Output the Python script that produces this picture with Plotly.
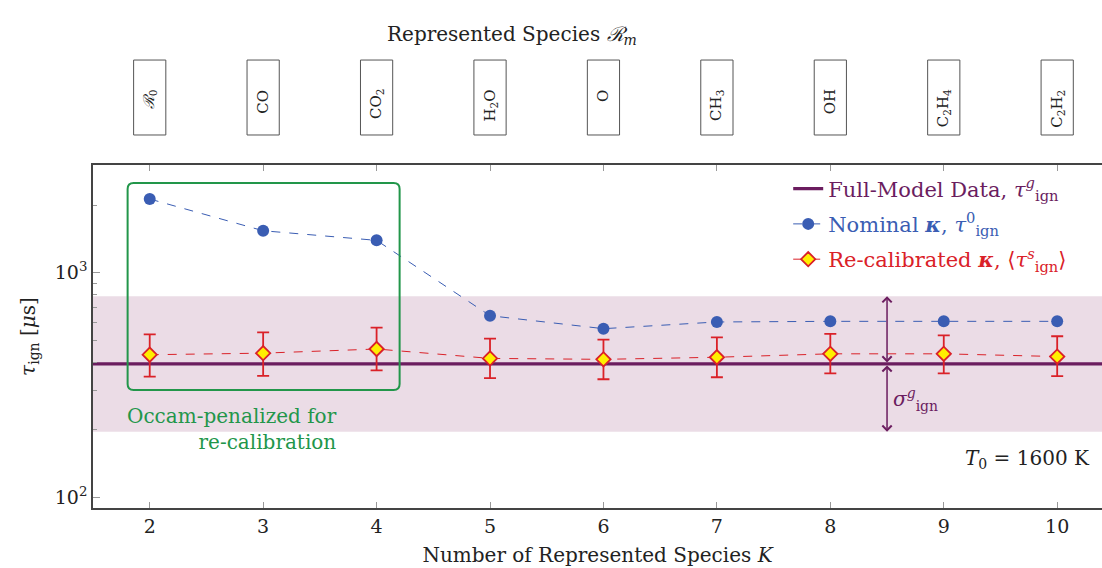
import numpy as np
import plotly.graph_objects as go

# ---------------- data ----------------
K = [2, 3, 4, 5, 6, 7, 8, 9, 10]
species = ["<i>ℛ</i><sub>0</sub>", "CO", "CO<sub>2</sub>", "H<sub>2</sub>O", "O",
           "CH<sub>3</sub>", "OH", "C<sub>2</sub>H<sub>4</sub>", "C<sub>2</sub>H<sub>2</sub>"]
tau_nominal = [2127, 1537, 1393, 644, 564, 604, 608, 608, 608]
tau_recal = [432, 439, 458, 416, 412, 421, 436, 436, 424]
tau_recal_hi = [532, 543, 570, 509, 504, 516, 535, 527, 522]
tau_recal_lo = [345, 348, 368, 340, 336, 343, 357, 357, 347]
tau_full = 393
sigma_factor = 2.0
x_span = [1.0, 11.0]

PURPLE = "#6B1D5F"
BAND = "#EBDCE6"
BLUE = "#3A5DB3"
RED = "#DA2128"
GREEN = "#22964A"
AX = "#444444"
FONT = "DejaVu Serif"

err_plus = [h - m for h, m in zip(tau_recal_hi, tau_recal)]
err_minus = [m - l for m, l in zip(tau_recal, tau_recal_lo)]

fig = go.Figure()

# sigma band
band_lo = tau_full / sigma_factor
band_hi = tau_full * sigma_factor
fig.add_trace(go.Scatter(
    x=[x_span[0], x_span[1], x_span[1], x_span[0]],
    y=[band_lo, band_lo, band_hi, band_hi],
    fill="toself", fillcolor=BAND, line=dict(width=0), mode="lines",
    showlegend=False, hoverinfo="skip"))

fig.add_trace(go.Scatter(
    x=x_span, y=[tau_full, tau_full], mode="lines", legendgroup="a",
    line=dict(color=PURPLE, width=3.2),
    name=f'<span style="color:{PURPLE}">Full-Model Data, <i>τ</i><sup><i>g</i></sup><sub>ign</sub></span>'))

fig.add_trace(go.Scatter(
    x=K, y=tau_nominal, mode="lines+markers", legendgroup="b",
    line=dict(color=BLUE, width=1, dash="dash"),
    marker=dict(color=BLUE, size=12, symbol="circle"),
    name=f'<span style="color:{BLUE}">Nominal <b><i>κ</i></b>, <i>τ</i><sup>0</sup><sub>ign</sub></span>'))

fig.add_trace(go.Scatter(
    x=K, y=tau_recal, mode="lines+markers", legendgroup="c",
    line=dict(color=RED, width=1, dash="dash"),
    marker=dict(color="#FFEF00", size=11, symbol="diamond", line=dict(color=RED, width=1.8)),
    error_y=dict(type="data", symmetric=False, array=err_plus, arrayminus=err_minus,
                 color=RED, thickness=1.8, width=6),
    name=f'<span style="color:{RED}">Re-calibrated <b><i>κ</i></b>, ⟨<i>τ</i><sup><i>s</i></sup><sub>ign</sub>⟩</span>'))

annotations = []
shapes = []

# species boxes on top
for k, s in zip(K, species):
    shapes.append(dict(type="rect", xref="x", yref="paper", x0=k - 0.142, x1=k + 0.142,
                       y0=1.0875, y1=1.306, line=dict(color="#555555", width=1)))
    annotations.append(dict(x=k, y=1.1968, xref="x", yref="paper", text=s, showarrow=False,
                            textangle=-90, yshift=10,
                            font=dict(family=FONT, size=15, color="#222222")))

annotations.append(dict(x=(512 - 93.3) / (1102 - 93.3), y=1.4227, xref="paper", yref="paper",
                        text="Represented Species <i>ℛ</i><sub><i>m</i></sub>", showarrow=False,
                        font=dict(family=FONT, size=20, color="#222222")))

# Occam box
shapes.append(dict(type="path", xref="x", yref="paper", xsizemode="pixel", ysizemode="pixel",
                   xanchor=3.004, yanchor=0.6458,
                   path="M -130,-103.5 L 130,-103.5 Q 136,-103.5 136,-97.5 L 136,97.5 Q 136,103.5 130,103.5 "
                        "L -130,103.5 Q -136,103.5 -136,97.5 L -136,-97.5 Q -136,-103.5 -130,-103.5 Z",
                   line=dict(color=GREEN, width=2)))
annotations.append(dict(x=1.78, y=0.230, xref="x", yref="paper", xanchor="left", yanchor="middle",
                        text="Occam-penalized for<br>re-calibration", align="right", showarrow=False,
                        font=dict(family=FONT, size=20, color=GREEN)))

# sigma arrows
for end in (band_hi, band_lo):
    annotations.append(dict(x=8.5, y=np.log10(end), ax=8.5, ay=np.log10(tau_full),
                            xref="x", yref="y", axref="x", ayref="y", text="",
                            showarrow=True, arrowhead=4, startarrowhead=4, arrowside="end+start",
                            arrowsize=1.2, startarrowsize=1.2, arrowwidth=1.5, arrowcolor=PURPLE,
                            standoff=0, startstandoff=0))
annotations.append(dict(x=8.5, y=np.log10(272), xref="x", yref="y", xanchor="left", xshift=4,
                        text="<i>σ</i><sup><i>g</i></sup><sub>ign</sub>", showarrow=False,
                        font=dict(family=FONT, size=20, color=PURPLE)))

annotations.append(dict(x=1, y=0.099, xref="paper", yref="paper", xanchor="right", xshift=-10,
                        text="<i>T</i><sub>0</sub> = 1600 K", showarrow=False,
                        font=dict(family=FONT, size=20, color="#222222")))

fig.update_layout(
    width=1102, height=568,
    margin=dict(l=93, r=0, t=165, b=60),
    paper_bgcolor="white", plot_bgcolor="white",
    font=dict(family=FONT, size=19, color="#222222"),
    showlegend=True,
    legend=dict(x=0.689, y=0.99, xanchor="left", yanchor="top", bgcolor="rgba(0,0,0,0)",
                font=dict(family=FONT, size=21), itemwidth=30, traceorder="grouped",
                tracegroupgap=5),
    shapes=shapes, annotations=annotations,
)

fig.update_xaxes(range=[1.5, 10.395], tickvals=K, ticks="inside", ticklen=6, tickcolor="#999999",
                 showline=True, linecolor=AX, linewidth=1.5, mirror="ticks", showgrid=False,
                 zeroline=False,
                 title=dict(text="Number of Represented Species <i>K</i>", standoff=12,
                            font=dict(family=FONT, size=20)),
                 tickfont=dict(family=FONT, size=19))
fig.update_yaxes(type="log", range=[1.954, 3.479], tickvals=[100, 1000],
                 ticktext=["10<sup>2</sup>", "10<sup>3</sup>"], ticks="inside", ticklen=7,
                 tickcolor="#999999", showline=True, linecolor=AX, linewidth=1.5, mirror=False,
                 showgrid=False, zeroline=False,
                 minor=dict(tickvals=[200, 300, 400, 500, 600, 700, 800, 900, 2000, 3000],
                            ticks="inside", ticklen=4, tickcolor="#999999"),
                 title=dict(text="<i>τ</i><sub>ign</sub> [<i>μ</i>s]", standoff=14,
                            font=dict(family=FONT, size=20)),
                 tickfont=dict(family=FONT, size=19))

fig.write_html("out.html")
